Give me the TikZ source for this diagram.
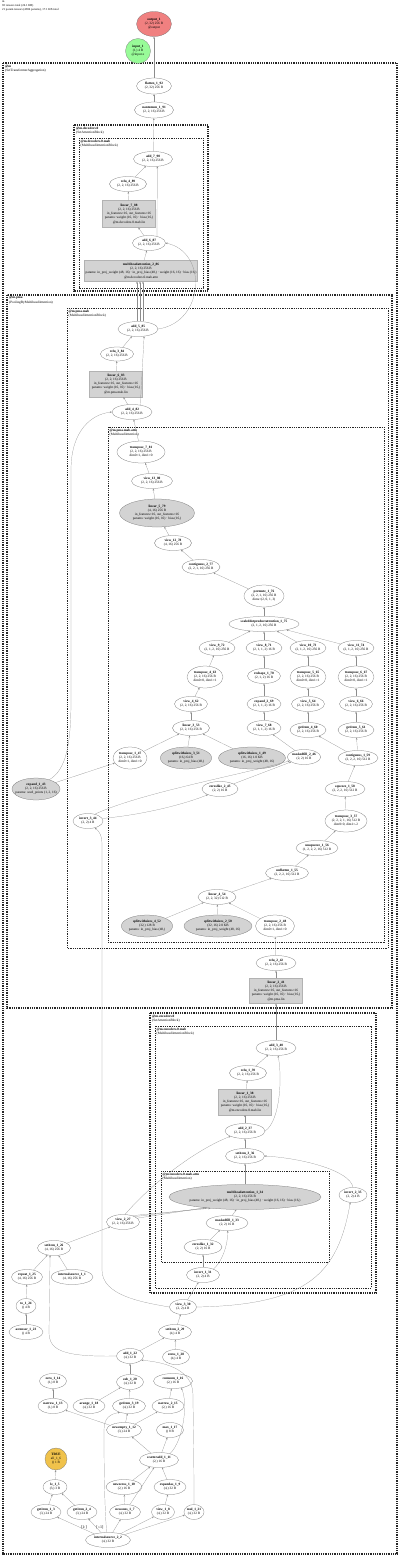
\documentclass[tikz,border=0pt]{standalone}
\usepackage{fontspec}
\setmainfont{Liberation Serif}
\usetikzlibrary{shapes.geometric,arrows.meta}
\definecolor{lgray}{HTML}{D3D3D3}
\definecolor{outred}{HTML}{F08080}
\definecolor{ingreen}{HTML}{98FB98}
\definecolor{truegold}{HTML}{F0C24B}
\newcommand\ndfont{\fontsize{3.4}{4.1}\selectfont}
\newcommand\mynd[6][]{\node[nd,minimum width=#4pt,minimum height=#5pt,#1] (#2) at (#3) {#6};}
\newcommand\mybx[6][]{\node[bx,minimum width=#4pt,minimum height=#5pt,#1] (#2) at (#3) {#6};}
\begin{document}
\begin{tikzpicture}[x=1pt,y=-1pt,
 nd/.style={draw=black!55,line width=0.25pt,ellipse,inner sep=0pt,align=center,font=\ndfont},
 bx/.style={draw=black!30,line width=0.2pt,rectangle,inner xsep=1pt,inner ysep=0.5pt,align=center,font=\ndfont,fill=lgray},
 ed/.style={draw=black!45,line width=0.2pt,-{Stealth[length=2pt,width=1.6pt]}},
 cla/.style={draw=black!85,line width=1.8pt,dash pattern=on 1pt off 0.8pt},
 clb/.style={draw=black!85,line width=1.3pt,dash pattern=on 1pt off 0.8pt},
 clc/.style={draw=black!85,line width=0.9pt,dash pattern=on 1pt off 0.8pt},
 cld/.style={draw=black!85,line width=0.5pt,dash pattern=on 1pt off 0.8pt},
 cll/.style={anchor=north west,align=left,inner sep=0pt,font=\ndfont},
 ]
\fill[white] (0,0) rectangle (400,1558);
\useasboundingbox (0,0) rectangle (400,1558);

% ---------- clusters ----------
\draw[cla] (3,63) rectangle (397,1554);
\node[cll] (lm) at (5,65) {\textbf{@m}\\(SetTransformerAggregation)};
\draw[clb] (74,125) rectangle (208,291);
\node[cll] (ldec) at (76,126.5) {\textbf{@m.decoders.0}\\(SetAttentionBlock)};
\draw[clc] (79,138) rectangle (203,288);
\node[cll] (ldecm) at (80.5,139.5) {\textbf{@m.decoders.0.mab}\\(MultiheadAttentionBlock)};
\draw[clb] (7,295) rectangle (392,1008);
\node[cll] (lpma) at (9,296.5) {\textbf{@m.pma}\\(PoolingByMultiheadAttention)};
\draw[clc] (67,308) rectangle (388,948);
\node[cll] (lpmam) at (68.5,309.5) {\textbf{@m.pma.mab}\\(MultiheadAttentionBlock)};
\draw[cld] (108,427) rectangle (384,942);
\node[cll] (lpmaa) at (109.5,428.5) {\textbf{@m.pma.mab.attn}\\(MultiheadAttention)};
\draw[clb] (150,1013) rectangle (376,1293);
\node[cll] (lenc) at (152,1014.5) {\textbf{@m.encoders.0}\\(SetAttentionBlock)};
\draw[clc] (155,1026) rectangle (371,1288);
\node[cll] (lencm) at (156.5,1027.5) {\textbf{@m.encoders.0.mab}\\(MultiheadAttentionBlock)};
\draw[cld] (161,1171) rectangle (329,1262);
\node[cll] (lenca) at (162.5,1172.5) {\textbf{@m.encoders.0.mab.attn}\\(MultiheadAttention)};

% ---------- title ----------
\node[cll,font=\fontsize{3}{3.8}\selectfont] (title) at (2,0.8) {m\\92 tensors total (24.1 KB)\\21 param tensors (4384 params), 17.1 KB total};

% ---------- top ----------
\mynd[fill=outred]{out1}{154,24}{35}{25}{\textbf{output\_1}\\(2, 32) 256 B\\@output}
\mynd[fill=ingreen,circle]{in1}{138,51}{25}{25}{\textbf{input\_1}\\(1,) 4 B\\@input.x}
\mynd{flat}{154,86}{35}{16}{\textbf{flatten\_1\_92}\\(2, 32) 256 B}
\mynd{nan}{154,110}{39}{16}{\textbf{nantonum\_1\_91}\\(2, 2, 16) 256 B}

% ---------- decoders ----------
\mynd{add7}{153,159}{39}{15}{\textbf{add\_7\_90}\\(2, 2, 16) 256 B}
\mynd{relu4}{128,184}{37}{15}{\textbf{relu\_4\_89}\\(2, 2, 16) 256 B}
\mybx{lin7}{129,214}{53}{27}{\textbf{linear\_7\_88}\\(2, 2, 16) 256 B\\in\_features=16, out\_features=16\\params: weight (16, 16) · bias (16,)\\@m.decoders.0.mab.lin}
\mynd{add6}{149,243}{33}{15}{\textbf{add\_6\_87}\\(2, 2, 16) 256 B}
\mybx{mha2}{141,271}{113}{21}{\textbf{multiheadattention\_2\_86}\\(2, 2, 16) 256 B\\params: in\_proj\_weight (48, 16) · in\_proj\_bias (48,) · weight (16, 16) · bias (16,)\\@m.decoders.0.mab.attn}

% ---------- pma ----------
\mynd{add5}{138,329}{40}{15}{\textbf{add\_5\_85}\\(2, 2, 16) 256 B}
\mynd{relu3}{117,354}{33}{14}{\textbf{relu\_3\_84}\\(2, 2, 16) 256 B}
\mybx{lin6}{116,384}{53}{26}{\textbf{linear\_6\_83}\\(2, 2, 16) 256 B\\in\_features=16, out\_features=16\\params: weight (16, 16) · bias (16,)\\@m.pma.mab.lin}
\mynd{add4}{132,412}{40}{15}{\textbf{add\_4\_82}\\(2, 2, 16) 256 B}
\mynd{tr7}{141,452}{48}{22}{\textbf{transpose\_7\_81}\\(2, 2, 16) 256 B\\dim0=1, dim1=0}
\mynd{v13}{152,481}{41}{15}{\textbf{view\_13\_80}\\(2, 2, 16) 256 B}
\mynd[fill=lgray]{lin5}{157,513}{75}{28}{\textbf{linear\_5\_79}\\(4, 16) 256 B\\in\_features=16, out\_features=16\\params: weight (16, 16) · bias (16,)}
\mynd{v12}{173,543}{37}{15}{\textbf{view\_12\_78}\\(4, 16) 256 B}
\mynd{cont2}{201,567}{38}{15}{\textbf{contiguous\_2\_77}\\(2, 2, 1, 16) 256 B}
\mynd{perm}{264,596}{40}{22}{\textbf{permute\_1\_76}\\(2, 2, 1, 16) 256 B\\dims=(2, 0, 1, 3)}
\mynd{sdpa}{264,624}{70}{15}{\textbf{scaleddotproductattention\_1\_75}\\(2, 1, 2, 16) 256 B}
\mynd{v9}{217,648}{36}{15}{\textbf{view\_9\_72}\\(2, 1, 2, 16) 256 B}
\mynd{v8}{264,648}{36}{15}{\textbf{view\_8\_71}\\(2, 1, 1, 2) 16 B}
\mynd{v10}{308,648}{36}{15}{\textbf{view\_10\_73}\\(2, 1, 2, 16) 256 B}
\mynd{v11}{356,648}{36}{15}{\textbf{view\_11\_74}\\(2, 1, 2, 16) 256 B}
\mynd{tr4}{205,677}{36}{22}{\textbf{transpose\_4\_63}\\(2, 2, 16) 256 B\\dim0=0, dim1=1}
\mynd{resh}{264,676}{33}{15}{\textbf{reshape\_1\_70}\\(2, 1, 2) 16 B}
\mynd{tr5}{308,677}{36}{22}{\textbf{transpose\_5\_65}\\(2, 2, 16) 256 B\\dim0=0, dim1=1}
\mynd{tr6}{356,677}{36}{22}{\textbf{transpose\_6\_67}\\(2, 2, 16) 256 B\\dim0=0, dim1=1}
\mynd{v4}{191,704}{33}{15}{\textbf{view\_4\_62}\\(2, 2, 16) 256 B}
\mynd{exp2}{264,704}{34}{15}{\textbf{expand\_2\_69}\\(2, 1, 1, 2) 16 B}
\mynd{v5}{308,704}{33}{15}{\textbf{view\_5\_64}\\(2, 2, 16) 256 B}
\mynd{v6}{356,704}{33}{15}{\textbf{view\_6\_66}\\(2, 2, 16) 256 B}
\mynd{lin3}{191,728}{37}{15}{\textbf{linear\_3\_53}\\(2, 2, 16) 256 B}
\mynd{v7}{264,728}{34}{15}{\textbf{view\_7\_68}\\(2, 1, 1, 2) 16 B}
\mynd{gi4}{308,730}{36}{15}{\textbf{getitem\_4\_60}\\(2, 2, 16) 256 B}
\mynd{gi5}{356,730}{36}{15}{\textbf{getitem\_5\_61}\\(2, 2, 16) 256 B}
\mynd{tr1}{130,758}{34}{22}{\textbf{transpose\_1\_47}\\(2, 2, 16) 256 B\\dim0=1, dim1=0}
\mynd[fill=lgray]{sp3}{186,758}{49}{22}{\textbf{splitwithsizes\_3\_51}\\(16,) 64 B\\params: in\_proj\_bias (48,)}
\mynd[fill=lgray]{sp1}{252,758}{67}{22}{\textbf{splitwithsizes\_1\_49}\\(16, 16) 1.0 KB\\params: in\_proj\_weight (48, 16)}
\mynd{mf2}{304,757}{30}{15}{\textbf{maskedfill\_2\_46}\\(2, 2) 16 B}
\mynd{cont1}{358,758}{40}{15}{\textbf{contiguous\_1\_59}\\(2, 2, 2, 16) 512 B}
\mynd[fill=lgray,inner xsep=-4pt]{exp1}{36,789}{48}{22}{\textbf{expand\_1\_43}\\(2, 2, 16) 256 B\\params: seed\_points (1, 2, 16)}
\mynd{zl2}{220,789}{36}{15}{\textbf{zeroslike\_2\_45}\\(2, 2) 16 B}
\mynd{sq}{345,789}{40}{15}{\textbf{squeeze\_1\_58}\\(2, 2, 2, 16) 512 B}
\mynd{inv3}{88,821}{30}{15}{\textbf{invert\_3\_44}\\(2, 2) 4 B}
\mynd{tr3}{346,821}{42}{22}{\textbf{transpose\_3\_57}\\(2, 2, 2, 1, 16) 512 B\\dim0=0, dim1=-2}
\mynd{unsq}{317,848}{42}{15}{\textbf{unsqueeze\_1\_56}\\(1, 2, 2, 2, 16) 512 B}
\mynd{unfl}{287,873}{43}{15}{\textbf{unflatten\_1\_55}\\(2, 2, 2, 16) 512 B}
\mynd{lin4}{217,897}{38}{15}{\textbf{linear\_4\_54}\\(2, 2, 32) 512 B}
\mynd[fill=lgray]{sp4}{147,926}{51}{22}{\textbf{splitwithsizes\_4\_52}\\(32,) 128 B\\params: in\_proj\_bias (48,)}
\mynd[fill=lgray]{sp2}{218,926}{68}{22}{\textbf{splitwithsizes\_2\_50}\\(32, 16) 2.0 KB\\params: in\_proj\_weight (48, 16)}
\mynd{tr2}{275,926}{39}{22}{\textbf{transpose\_2\_48}\\(2, 2, 16) 256 B\\dim0=1, dim1=0}
\mynd{relu2}{276,963}{40}{15}{\textbf{relu\_2\_42}\\(2, 2, 16) 256 B}
\mybx{lin2}{276,991}{53}{25}{\textbf{linear\_2\_41}\\(2, 2, 16) 256 B\\in\_features=16, out\_features=16\\params: weight (16, 16) · bias (16,)\\@m.pma.lin}

% ---------- encoders ----------
\mynd{add3}{276,1048}{40}{15}{\textbf{add\_3\_40}\\(2, 2, 16) 256 B}
\mynd{relu1}{248,1073}{37}{15}{\textbf{relu\_1\_39}\\(2, 2, 16) 256 B}
\mybx{lin1}{245,1102}{53}{26}{\textbf{linear\_1\_38}\\(2, 2, 16) 256 B\\in\_features=16, out\_features=16\\params: weight (16, 16) · bias (16,)\\@m.encoders.0.mab.lin}
\mynd{add2}{245,1131}{40}{15}{\textbf{add\_2\_37}\\(2, 2, 16) 256 B}
\mynd{set3}{245,1156}{39}{15}{\textbf{setitem\_3\_36}\\(2, 2, 16) 256 B}
\mynd[fill=lgray,inner xsep=-6pt]{mha1}{245,1197}{152}{25}{\textbf{multiheadattention\_1\_34}\\(2, 2, 16) 256 B\\params: in\_proj\_weight (48, 16) · in\_proj\_bias (48,) · weight (16, 16) · bias (16,)}
\mynd{mf1}{227,1223}{42}{15}{\textbf{maskedfill\_1\_33}\\(2, 2) 16 B}
\mynd{zl1}{203,1247}{38}{15}{\textbf{zeroslike\_1\_32}\\(2, 2) 16 B}
\mynd{inv1}{203,1275}{33}{15}{\textbf{invert\_1\_31}\\(2, 2) 4 B}
\mynd{inv2}{353,1195}{28}{15}{\textbf{invert\_2\_35}\\(2, 2) 4 B}

% ---------- dense batch ----------
\mynd{v2}{123,1222}{33}{15}{\textbf{view\_2\_27}\\(2, 2, 16) 256 B}
\mynd{set1}{54,1248}{33}{15}{\textbf{setitem\_1\_26}\\(4, 16) 256 B}
\mynd{rep}{27,1277}{31}{15}{\textbf{repeat\_1\_25}\\(4, 16) 256 B}
\mynd{is1}{72,1277}{42}{15}{\textbf{internalsource\_1\_1}\\(4, 16) 256 B}
\mynd{to}{26,1306}{20}{15}{\textbf{to\_1\_24}\\() 4 B}
\mynd{ast}{26,1332}{34}{15}{\textbf{astensor\_1\_23}\\() 4 B}
\mynd{v3}{183,1307}{27}{15}{\textbf{view\_3\_30}\\(2, 2) 4 B}
\mynd{set2}{175,1332}{33}{15}{\textbf{setitem\_2\_29}\\(4,) 4 B}
\mynd{zeros}{176,1357}{27}{15}{\textbf{zeros\_1\_28}\\(4,) 4 B}
\mynd{add1}{130,1356}{27}{15}{\textbf{add\_1\_22}\\(4,) 32 B}
\mynd{cums}{173,1381}{39}{15}{\textbf{cumsum\_1\_16}\\(2,) 16 B}
\mynd{sub}{130,1382}{27}{15}{\textbf{sub\_1\_20}\\(4,) 32 B}
\mynd{zero}{53,1381}{27}{15}{\textbf{zero\_1\_14}\\(1,) 8 B}
\mynd{nar1}{53,1406}{30}{15}{\textbf{narrow\_1\_13}\\(1,) 8 B}
\mynd{ar}{89,1406}{32}{15}{\textbf{arange\_1\_18}\\(4,) 32 B}
\mynd{gi3}{129,1406}{33}{15}{\textbf{getitem\_3\_19}\\(4,) 32 B}
\mynd{nar2}{168,1406}{32}{15}{\textbf{narrow\_2\_15}\\(2,) 16 B}
\mynd{ne}{124,1430}{35}{15}{\textbf{newempty\_1\_12}\\(3,) 24 B}
\mynd{mx}{170,1430}{27}{15}{\textbf{max\_1\_17}\\() 8 B}
\mynd[fill=truegold,circle]{tru}{56,1459}{22}{22}{\textbf{TRUE}\\all\_1\_6\\() 1 B}
\mynd{sa}{159,1460}{39}{15}{\textbf{scatteradd\_1\_11}\\(2,) 16 B}
\mynd{le}{55,1487}{24}{15}{\textbf{le\_1\_5}\\(3,) 3 B}
\mynd{nz}{124,1487}{36}{15}{\textbf{newzeros\_1\_10}\\(2,) 16 B}
\mynd{ea}{170,1487}{32}{15}{\textbf{expandas\_1\_9}\\(4,) 32 B}
\mynd{gi1}{46,1512}{30}{15}{\textbf{getitem\_1\_3}\\(3,) 24 B}
\mynd{gi2}{82,1512}{30}{15}{\textbf{getitem\_2\_4}\\(3,) 24 B}
\mynd{no}{125,1512}{31}{15}{\textbf{newones\_1\_7}\\(4,) 32 B}
\mynd{v1}{163,1512}{23}{15}{\textbf{view\_1\_8}\\(4,) 32 B}
\mynd{mul}{194,1512}{20}{15}{\textbf{mul\_1\_21}\\(4,) 32 B}
\mynd{is2}{108,1540}{45}{15}{\textbf{internalsource\_2\_2}\\(4,) 32 B}
\node[font=\fontsize{4}{4}\selectfont,inner sep=0pt] (lbA) at (84,1527) {[1:]};
\node[font=\fontsize{4}{4}\selectfont,inner sep=0pt] (lbB) at (100,1527) {[:-1]};

% ---------- edges: top & decoders ----------
\draw[ed] (flat) -- (out1);
\draw[ed] (nan) -- (flat);
\draw[ed] (add7) -- (nan);
\draw[ed] (relu4) -- (add7);
\draw[ed] (lin7) -- (relu4);
\draw[ed] (add6) -- (lin7);
\draw[ed] (add6.40) -- (add7.-60);
\draw[ed] (mha2) -- (add6);
\draw[ed] ([xshift=-1pt]add5.north) -- ([xshift=-4pt]mha2.south);
\draw[ed] ([xshift=2pt]add5.north) -- ([xshift=-1pt]mha2.south);
\draw[ed] ([xshift=5pt]add5.north) -- ([xshift=2pt]mha2.south);
\draw[ed] (add5.east) .. controls (205,322) and (208,252) .. (add6.east);

% ---------- edges: pma ----------
\draw[ed] (relu3) -- (add5);
\draw[ed] (lin6) -- (relu3);
\draw[ed] (add4) -- (lin6);
\draw[ed] (add4.40) -- (add5.-50);
\draw[ed] (tr7) -- (add4);
\draw[ed] (v13) -- (tr7);
\draw[ed] (lin5) -- (v13);
\draw[ed] (v12) -- (lin5);
\draw[ed] (cont2) -- (v12);
\draw[ed] (perm) -- (cont2);
\draw[ed] (sdpa) -- (perm);
\draw[ed] (v9) -- (sdpa);
\draw[ed] (v8) -- (sdpa);
\draw[ed] (v10) -- (sdpa);
\draw[ed] (v11) -- (sdpa);
\draw[ed] (tr4) -- (v9);
\draw[ed] (resh) -- (v8);
\draw[ed] (tr5) -- (v10);
\draw[ed] (tr6) -- (v11);
\draw[ed] (v4) -- (tr4);
\draw[ed] (exp2) -- (resh);
\draw[ed] (v5) -- (tr5);
\draw[ed] (v6) -- (tr6);
\draw[ed] (lin3) -- (v4);
\draw[ed] (v7) -- (exp2);
\draw[ed] (gi4) -- (v5);
\draw[ed] (gi5) -- (v6);
\draw[ed] (tr1) -- (lin3);
\draw[ed] (sp3) -- (lin3);
\draw[ed] (sp1) -- (lin3);
\draw[ed] (mf2) -- (v7);
\draw[ed] (cont1) -- (gi4);
\draw[ed] (cont1) -- (gi5);
\draw[ed] (sq) -- (cont1);
\draw[ed] (tr3) -- (sq);
\draw[ed] (unsq) -- (tr3);
\draw[ed] (unfl) -- (unsq);
\draw[ed] (lin4) -- (unfl);
\draw[ed] (sp4) -- (lin4);
\draw[ed] (sp2) -- (lin4);
\draw[ed] (tr2) -- (lin4);
\draw[ed] (relu2) -- (tr2);
\draw[ed] (lin2) -- (relu2);
\draw[ed] (exp1) -- (tr1);
\draw[ed] (exp1.35) .. controls (66,770) and (71,745) .. (71,700) -- (71,470) .. controls (71,430) and (92,414) .. (add4.west);
\draw[ed] (inv3.10) .. controls (150,814) and (190,802) .. (zl2.205);
\draw[ed] (inv3.45) .. controls (140,793) and (240,775) .. (mf2.195);
\draw[ed] (zl2) -- (mf2);
\draw[ed] (v3.west) .. controls (140,1302) and (102,1295) .. (102,1270) -- (102,845) .. controls (102,835) and (99,831) .. (inv3.-45);

% ---------- edges: encoders ----------
\draw[ed] (add3) -- (lin2);
\draw[ed] (relu1) -- (add3);
\draw[ed] (lin1) -- (relu1);
\draw[ed] (add2) -- (lin1);
\draw[ed] (add2.east) .. controls (281,1120) and (282,1075) .. (add3.-75);
\draw[ed] (set3) -- (add2);
\draw[ed] (mha1) -- (set3);
\draw[ed] (inv2.north) .. controls (350,1170) and (300,1158) .. (set3.east);
\draw[ed] (mf1) -- (mha1);
\draw[ed] (zl1) -- (mf1);
\draw[ed] (inv1) -- (zl1);
\draw[ed] (inv1.30) .. controls (222,1262) and (228,1245) .. (mf1.-85);
\draw[ed] (v2.15) -- (mha1.195);
\draw[ed] (v2.25) -- (mha1.196.5);
\draw[ed] (v2.35) -- (mha1.198);
\draw[ed] (v2.75) .. controls (150,1185) and (195,1150) .. (add2.200);
\draw[ed] (v3) -- (inv1);
\draw[ed] (v3.east) .. controls (310,1305) and (338,1272) .. (inv2.250);

% ---------- edges: dense batch ----------
\draw[ed] (set1) -- (v2);
\draw[ed] (rep) -- (set1);
\draw[ed] (is1) -- (set1);
\draw[ed] (add1.west) .. controls (62,1357) and (49,1350) .. (49,1332) -- (set1.-118);
\draw[ed] (to) -- (rep);
\draw[ed] (ast) -- (to);
\draw[ed] (set2) -- (v3);
\draw[ed] (zeros) -- (set2);
\draw[ed] (add1) -- (set2);
\draw[ed] (sub) -- (add1);
\draw[ed] (mul.north) .. controls (194,1450) and (193,1415) .. (193,1395) .. controls (193,1368) and (162,1362) .. (add1.-20);
\draw[ed] (ar) -- (sub);
\draw[ed] (gi3) -- (sub);
\draw[ed] (nar1) -- (zero);
\draw[ed] (nar2) -- (cums);
\draw[ed] (sa.30) .. controls (184,1440) and (188,1402) .. (cums.-40);
\draw[ed] (sa) -- (mx);
\draw[ed] (ne) -- (nar2);
\draw[ed] (sa) -- (ne);
\draw[ed] (ne) -- (nar1);
\draw[ed] (ne) -- (gi3);
\draw[ed] (is2.100) .. controls (104,1500) and (104,1450) .. (104,1430) .. controls (104,1418) and (110,1414) .. (gi3.-145);
\draw[ed] (is2) -- (gi1);
\draw[ed] (is2) -- (gi2);
\draw[ed] (is2) -- (no);
\draw[ed] (is2) -- (v1);
\draw[ed] (is2) -- (mul);
\draw[ed] (gi1) -- (le);
\draw[ed] (gi2) -- (le);
\draw[ed] (le) -- (tru);
\draw[ed] (no) -- (nz);
\draw[ed] (no) -- (sa);
\draw[ed] (nz) -- (sa);
\draw[ed] (v1) -- (ea);
\draw[ed] (ea) -- (sa);
\end{tikzpicture}
\end{document}
